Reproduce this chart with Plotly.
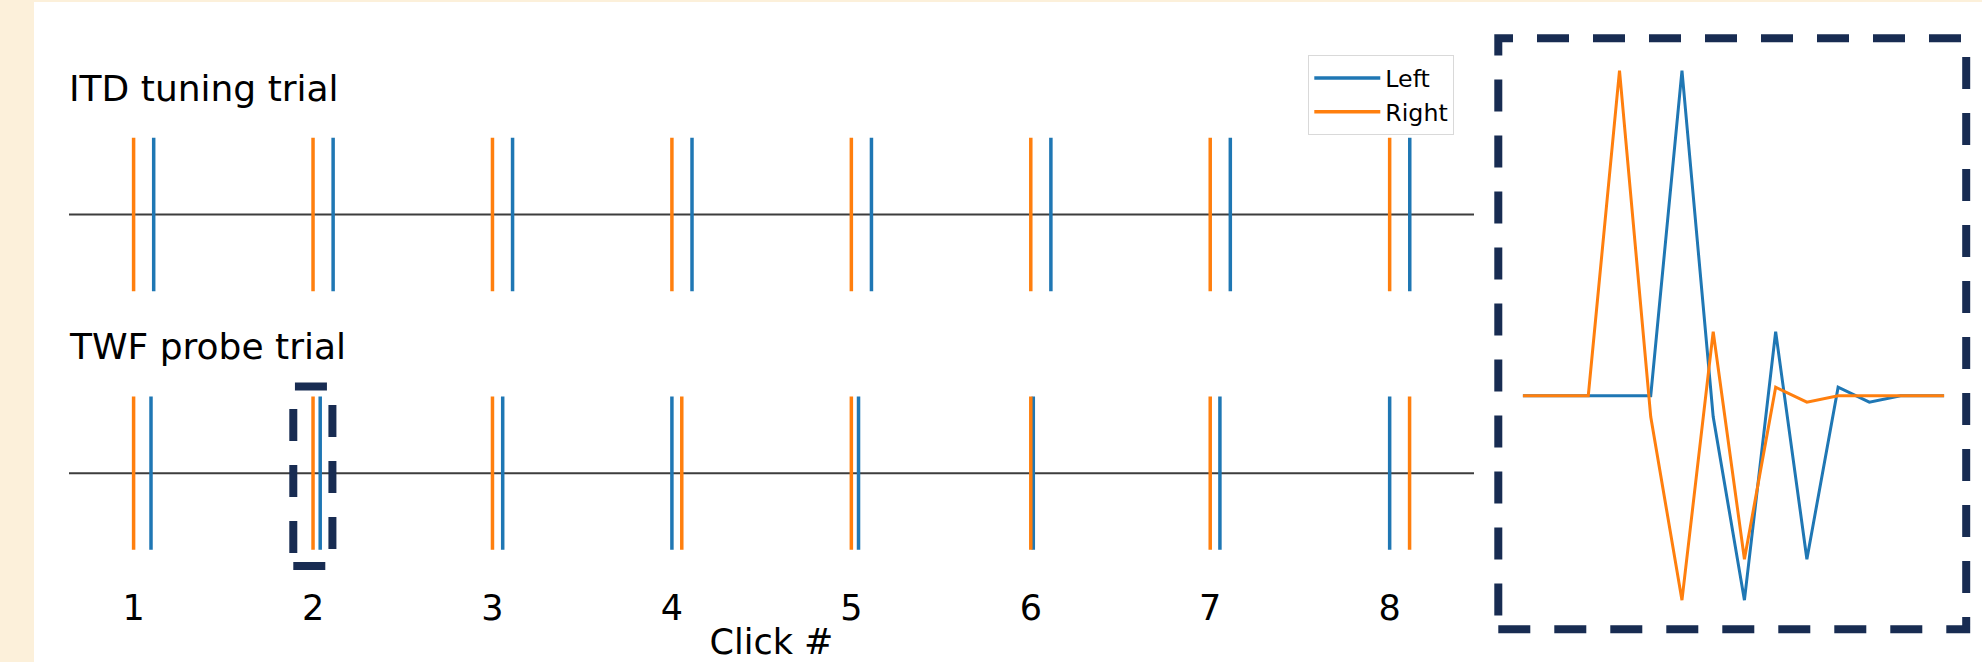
import plotly.graph_objects as go

W, H = 1982, 662

# ---- data -------------------------------------------------------------
clicks = [1, 2, 3, 4, 5, 6, 7, 8]
tick_labels = ["1", "2", "3", "4", "5", "6", "7", "8"]

# click onset times (click-interval units) for each ear
itd_left = [1.112, 2.112, 3.112, 4.112, 5.112, 6.112, 7.112, 8.112]
itd_right = [1.000, 2.000, 3.000, 4.000, 5.000, 6.000, 7.000, 8.000]
twf_left = [1.097, 2.040, 3.057, 4.000, 5.040, 6.014, 7.054, 8.000]
twf_right = [1.000, 2.000, 3.000, 4.055, 5.000, 6.000, 7.000, 8.111]

# sampled click waveform shown in the zoomed inset
wave_t = [-2.1, 0, 1, 2, 3, 4, 5, 6, 7, 8, 9, 10, 11.4]
wave_left = [0, 0, 0, 0, 1.0, -0.065, -0.629, 0.197, -0.503, 0.026, -0.020, 0, 0]
wave_right = [0, 0, 1.0, -0.065, -0.629, 0.197, -0.503, 0.026, -0.020, 0, 0, 0, 0]

BLUE = "#1f77b4"
ORANGE = "#ff7f0e"
NAVY = "#182c52"
CREAM = "#fcf0da"
FONT = "DejaVu Sans"


def fx(px):
    return px / W


def fy(py):
    return 1 - py / H


def spikes(xs, half=1.0):
    x, y = [], []
    for v in xs:
        x += [v, v, None]
        y += [-half, half, None]
    return x, y


fig = go.Figure()

# top panel: ITD tuning trial
for name, xs, col in [("Left", itd_left, BLUE), ("Right", itd_right, ORANGE)]:
    sx, sy = spikes(xs)
    fig.add_trace(go.Scatter(x=sx, y=sy, mode="lines", name=name,
                             line=dict(color=col, width=3.5),
                             xaxis="x", yaxis="y", legendgroup=name,
                             hoverinfo="skip"))

# bottom panel: TWF probe trial
for name, xs, col in [("Left", twf_left, BLUE), ("Right", twf_right, ORANGE)]:
    sx, sy = spikes(xs)
    fig.add_trace(go.Scatter(x=sx, y=sy, mode="lines", name=name,
                             line=dict(color=col, width=3.5),
                             xaxis="x2", yaxis="y2", showlegend=False,
                             hoverinfo="skip"))

# inset: waveform of a single click pair
for name, ys, col in [("Left", wave_left, BLUE), ("Right", wave_right, ORANGE)]:
    fig.add_trace(go.Scatter(x=wave_t, y=ys, mode="lines", name=name,
                             line=dict(color=col, width=3),
                             xaxis="x3", yaxis="y3", showlegend=False,
                             hoverinfo="skip"))

XR = [0.64, 8.47]

fig.update_layout(
    width=W, height=H, autosize=False,
    template="none",
    margin=dict(l=0, r=0, t=0, b=0, pad=0),
    paper_bgcolor=CREAM,
    plot_bgcolor="rgba(0,0,0,0)",
    font=dict(family=FONT, color="black", size=35),
    xaxis=dict(domain=[fx(69), fx(1474)], range=XR, anchor="y",
               showticklabels=False, showgrid=False, zeroline=False,
               showline=False, ticks="", automargin=False),
    yaxis=dict(domain=[fy(329.5), fy(99.5)], range=[-1.5, 1.5], anchor="x",
               visible=False),
    xaxis2=dict(domain=[fx(69), fx(1474)], range=XR, anchor="y2",
                tickvals=clicks, ticktext=tick_labels, ticks="",
                tickfont=dict(size=35, color="black"),
                ticklabelstandoff=-4,
                showgrid=False, zeroline=False, showline=False,
                automargin=False,
                title=dict(text="Click #", font=dict(size=35, color="black"),
                           standoff=7)),
    yaxis2=dict(domain=[fy(588.2), fy(358.2)], range=[-1.5, 1.5], anchor="x2",
                visible=False),
    xaxis3=dict(domain=[fx(1522.7), fx(1944.3)], range=[-2.1, 11.4],
                anchor="y3", visible=False),
    yaxis3=dict(domain=[fy(655.7), fy(38.2)], range=[-0.8, 1.1],
                anchor="x3", visible=False),
    legend=dict(x=fx(1308.3), y=fy(55), xanchor="left", yanchor="top",
                bgcolor="white", bordercolor="#d9d9d9", borderwidth=1,
                font=dict(size=23.7, color="black"),
                tracegroupgap=0, itemwidth=66),
    showlegend=True,
)

shapes = [
    # white figure area over the cream page
    dict(type="rect", xref="paper", yref="paper", x0=fx(34), x1=1,
         y0=0, y1=fy(2), fillcolor="white", line=dict(width=0),
         layer="below"),
    # horizontal baselines of the two click trains
    dict(type="line", xref="x domain", yref="y", x0=0, x1=1, y0=0, y1=0,
         line=dict(color="#3d3d3d", width=2), layer="below"),
    dict(type="line", xref="x2 domain", yref="y2", x0=0, x1=1, y0=0, y1=0,
         line=dict(color="#3d3d3d", width=2), layer="below"),
    # dashed frame around click 2 of the probe trial
    dict(type="rect", xref="x2", yref="y2", x0=1.890, x1=2.108,
         y0=-1.21, y1=1.13, line=dict(color=NAVY, width=8, dash="32px,24px"),
         fillcolor="rgba(0,0,0,0)", layer="above"),
    # dashed frame around the zoomed waveform
    dict(type="rect", xref="paper", yref="paper", x0=fx(1498.3), x1=fx(1966.2),
         y0=fy(629.2), y1=fy(38.3),
         line=dict(color=NAVY, width=8, dash="32px,24px"),
         fillcolor="rgba(0,0,0,0)", layer="above"),
]
fig.update_layout(shapes=shapes)

for text, yc in [("ITD tuning trial", 88.3), ("TWF probe trial", 346.9)]:
    fig.add_annotation(text=text, xref="paper", yref="paper",
                       x=fx(67), y=fy(yc), xanchor="left", yanchor="middle",
                       showarrow=False, font=dict(size=36, color="black"))

fig.write_html("out.html")
